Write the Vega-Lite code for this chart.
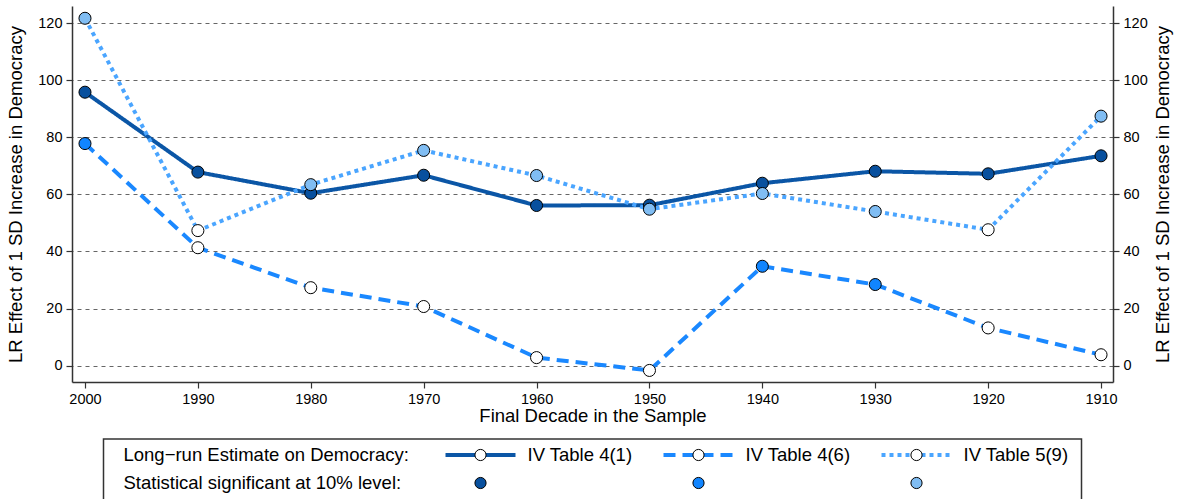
{
  "$schema": "https://vega.github.io/schema/vega-lite/v6.json",
  "padding": {"left": 6, "top": 6, "right": 5, "bottom": 0},
  "background": "white",
  "config": {
    "font": "Liberation Sans",
    "view": {"stroke": null},
    "axis": {
      "domainColor": "#333333",
      "domainWidth": 1.5,
      "tickColor": "#333333",
      "tickWidth": 1.2,
      "tickSize": 6,
      "labelFontSize": 14.5,
      "labelColor": "black",
      "labelPadding": 4,
      "titleFontSize": 18.5,
      "titleFontWeight": "normal",
      "titleColor": "black"
    }
  },
  "datasets": {
    "est": [
      {"decade": 2000, "series": "IV Table 4(1)", "value": 95.8, "sig": true},
      {"decade": 1990, "series": "IV Table 4(1)", "value": 67.8, "sig": true},
      {"decade": 1980, "series": "IV Table 4(1)", "value": 60.4, "sig": true},
      {"decade": 1970, "series": "IV Table 4(1)", "value": 66.7, "sig": true},
      {"decade": 1960, "series": "IV Table 4(1)", "value": 56.1, "sig": true},
      {"decade": 1950, "series": "IV Table 4(1)", "value": 56.2, "sig": true},
      {"decade": 1940, "series": "IV Table 4(1)", "value": 63.9, "sig": true},
      {"decade": 1930, "series": "IV Table 4(1)", "value": 68.1, "sig": true},
      {"decade": 1920, "series": "IV Table 4(1)", "value": 67.2, "sig": true},
      {"decade": 1910, "series": "IV Table 4(1)", "value": 73.5, "sig": true},
      {"decade": 2000, "series": "IV Table 4(6)", "value": 77.8, "sig": true},
      {"decade": 1990, "series": "IV Table 4(6)", "value": 41.3, "sig": false},
      {"decade": 1980, "series": "IV Table 4(6)", "value": 27.3, "sig": false},
      {"decade": 1970, "series": "IV Table 4(6)", "value": 20.7, "sig": false},
      {"decade": 1960, "series": "IV Table 4(6)", "value": 2.8, "sig": false},
      {"decade": 1950, "series": "IV Table 4(6)", "value": -1.7, "sig": false},
      {"decade": 1940, "series": "IV Table 4(6)", "value": 34.8, "sig": true},
      {"decade": 1930, "series": "IV Table 4(6)", "value": 28.4, "sig": true},
      {"decade": 1920, "series": "IV Table 4(6)", "value": 13.2, "sig": false},
      {"decade": 1910, "series": "IV Table 4(6)", "value": 3.8, "sig": false},
      {"decade": 2000, "series": "IV Table 5(9)", "value": 121.7, "sig": true},
      {"decade": 1990, "series": "IV Table 5(9)", "value": 47.3, "sig": false},
      {"decade": 1980, "series": "IV Table 5(9)", "value": 63.4, "sig": true},
      {"decade": 1970, "series": "IV Table 5(9)", "value": 75.4, "sig": true},
      {"decade": 1960, "series": "IV Table 5(9)", "value": 66.6, "sig": true},
      {"decade": 1950, "series": "IV Table 5(9)", "value": 54.8, "sig": true},
      {"decade": 1940, "series": "IV Table 5(9)", "value": 60.3, "sig": true},
      {"decade": 1930, "series": "IV Table 5(9)", "value": 54.0, "sig": true},
      {"decade": 1920, "series": "IV Table 5(9)", "value": 47.6, "sig": false},
      {"decade": 1910, "series": "IV Table 5(9)", "value": 87.4, "sig": true}
    ],
    "legendItems": [
      {"series": "IV Table 4(1)", "row": "Long−run Estimate on Democracy:", "sig": false},
      {"series": "IV Table 4(6)", "row": "Long−run Estimate on Democracy:", "sig": false},
      {"series": "IV Table 5(9)", "row": "Long−run Estimate on Democracy:", "sig": false},
      {"series": "IV Table 4(1)", "row": "Statistical significant at 10% level:", "sig": true},
      {"series": "IV Table 4(6)", "row": "Statistical significant at 10% level:", "sig": true},
      {"series": "IV Table 5(9)", "row": "Statistical significant at 10% level:", "sig": true}
    ],
    "legendRows": [
      {"row": "Long−run Estimate on Democracy:"},
      {"row": "Statistical significant at 10% level:"}
    ]
  },
  "spacing": 57,
  "bounds": "flush",
  "center": true,
  "vconcat": [
    {
      "width": 1041,
      "height": 376,
      "data": {"name": "est"},
      "layer": [
        {
          "mark": {"type": "line", "strokeWidth": 4},
          "encoding": {
            "x": {
              "field": "decade", "type": "quantitative",
              "scale": {"domain": [1908.94, 2001.15], "reverse": true, "nice": false, "zero": false},
              "axis": {
                "values": [2000, 1990, 1980, 1970, 1960, 1950, 1940, 1930, 1920, 1910],
                "format": "d", "grid": false, "labelFlush": false,
                "title": "Final Decade in the Sample", "titlePadding": 1
              }
            },
            "y": {
              "field": "value", "type": "quantitative",
              "scale": {"domain": [-5.75, 126], "nice": false, "zero": false},
              "axis": {
                "orient": "left",
                "values": [0, 20, 40, 60, 80, 100, 120],
                "grid": true, "gridColor": "#666666", "gridDash": [4, 4], "gridWidth": 1,
                "title": "LR Effect of 1 SD Increase in Democracy", "titlePadding": 12.5
              }
            },
            "color": {
              "field": "series", "type": "nominal",
              "scale": {"domain": ["IV Table 4(1)", "IV Table 4(6)", "IV Table 5(9)"], "range": ["#0b56a6", "#1a88ff", "#4aa5ff"]},
              "legend": null
            },
            "strokeDash": {
              "field": "series", "type": "nominal",
              "scale": {"domain": ["IV Table 4(1)", "IV Table 4(6)", "IV Table 5(9)"], "range": [[1, 0], [12, 7], [4, 4]]},
              "legend": null
            }
          }
        },
        {
          "mark": {"type": "point", "filled": true, "size": 145, "stroke": "black", "strokeWidth": 1, "opacity": 1},
          "encoding": {
            "x": {"field": "decade", "type": "quantitative"},
            "y": {
              "field": "value", "type": "quantitative",
              "axis": {
                "orient": "right",
                "values": [0, 20, 40, 60, 80, 100, 120],
                "grid": false,
                "title": "LR Effect of 1 SD Increase in Democracy", "titleAngle": 270, "titlePadding": 25
              }
            },
            "fill": {
              "condition": {"test": "!datum.sig", "value": "white"},
              "field": "series", "type": "nominal",
              "scale": {"domain": ["IV Table 4(1)", "IV Table 4(6)", "IV Table 5(9)"], "range": ["#08509e", "#1185ff", "#80bdf3"]},
              "legend": null
            }
          }
        }
      ],
      "resolve": {"axis": {"y": "independent"}}
    },
    {
      "width": 978,
      "height": 70,
      "view": {"stroke": "#333333", "strokeWidth": 1.5, "fill": "white"},
      "layer": [
        {
          "data": {"name": "legendRows"},
          "mark": {"type": "text", "align": "left", "baseline": "middle", "fontSize": 18.5, "color": "black"},
          "encoding": {
            "x": {"value": 20},
            "y": {"field": "row", "type": "nominal", "scale": {"type": "point", "domain": ["Long−run Estimate on Democracy:", "Statistical significant at 10% level:"], "range": [16, 44], "padding": 0}, "axis": null},
            "text": {"field": "row"}
          }
        },
        {
          "data": {"name": "legendItems"},
          "transform": [{"filter": "!datum.sig"}],
          "mark": {"type": "rule", "strokeWidth": 4, "xOffset": -35, "x2Offset": 35},
          "encoding": {
            "x": {"field": "series", "type": "nominal", "scale": {"type": "point", "domain": ["IV Table 4(1)", "IV Table 4(6)", "IV Table 5(9)"], "range": [377, 813], "padding": 0}, "axis": null},
            "x2": {"field": "series"},
            "y": {"field": "row", "type": "nominal", "axis": null},
            "color": {
              "field": "series", "type": "nominal",
              "scale": {"domain": ["IV Table 4(1)", "IV Table 4(6)", "IV Table 5(9)"], "range": ["#0b56a6", "#1a88ff", "#4aa5ff"]},
              "legend": null
            },
            "strokeDash": {
              "field": "series", "type": "nominal",
              "scale": {"domain": ["IV Table 4(1)", "IV Table 4(6)", "IV Table 5(9)"], "range": [[1, 0], [12, 7], [4, 4]]},
              "legend": null
            }
          }
        },
        {
          "data": {"name": "legendItems"},
          "mark": {"type": "point", "filled": true, "size": 125, "stroke": "black", "strokeWidth": 1, "opacity": 1},
          "encoding": {
            "x": {"field": "series", "type": "nominal", "axis": null},
            "y": {"field": "row", "type": "nominal", "axis": null},
            "fill": {
              "condition": {"test": "!datum.sig", "value": "white"},
              "field": "series", "type": "nominal",
              "scale": {"domain": ["IV Table 4(1)", "IV Table 4(6)", "IV Table 5(9)"], "range": ["#08509e", "#1185ff", "#80bdf3"]},
              "legend": null
            }
          }
        },
        {
          "data": {"name": "legendItems"},
          "transform": [{"filter": "!datum.sig"}],
          "mark": {"type": "text", "align": "left", "baseline": "middle", "fontSize": 18.5, "xOffset": 47, "color": "black"},
          "encoding": {
            "x": {"field": "series", "type": "nominal", "axis": null},
            "y": {"field": "row", "type": "nominal", "axis": null},
            "text": {"field": "series"}
          }
        }
      ]
    }
  ]
}
